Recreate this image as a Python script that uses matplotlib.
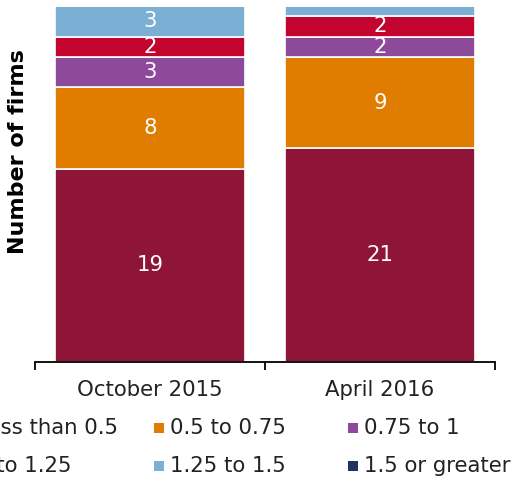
import matplotlib
matplotlib.use("Agg")
import matplotlib.pyplot as plt
from matplotlib.patches import Rectangle

categories = ["October 2015", "April 2016"]
series_names = ["Less than 0.5", "0.5 to 0.75", "0.75 to 1", "1 to 1.25", "1.25 to 1.5", "1.5 or greater"]
values = {
    "Less than 0.5": [19, 21],
    "0.5 to 0.75": [8, 9],
    "0.75 to 1": [3, 2],
    "1 to 1.25": [2, 2],
    "1.25 to 1.5": [3, 1],
    "1.5 or greater": [0, 0],
}
show_label = {
    "1.25 to 1.5": [True, False],
}
colors = ["#8E1538", "#E07C00", "#8E4A9A", "#C3042F", "#7BAFD4", "#1F3361"]

W, H = 517, 483
FS = 15.3
fig = plt.figure(figsize=(W/100, H/100), dpi=100)
ax = fig.add_axes([35/W, 1-362/H, 460/W, 356/H])

x = list(range(len(categories)))
bottoms = [0]*len(categories)
for name, col in zip(series_names, colors):
    vals = values[name]
    ax.bar(x, vals, width=0.826, bottom=bottoms, color=col, edgecolor="white", linewidth=1.2)
    for i, v in enumerate(vals):
        lab = show_label.get(name, [True]*len(categories))[i]
        if v > 0 and lab:
            ax.text(x[i], bottoms[i] + v/2, str(v), ha="center", va="center", color="white", fontsize=FS)
    bottoms = [b + v for b, v in zip(bottoms, vals)]

ax.set_xlim(-0.5, 1.5)
ax.set_ylim(0, 35)
for s in ["top", "right", "left"]:
    ax.spines[s].set_visible(False)
ax.spines["bottom"].set_linewidth(1.3)
ax.set_yticks([])
ax.set_xticks([-0.5, 0.5, 1.5])
ax.set_xticklabels([])
ax.tick_params(axis="x", which="major", length=6, width=1.3, direction="out")
ax.set_xticks(x, minor=True)
ax.set_xticklabels(categories, minor=True, fontsize=FS, color="#222222")
ax.tick_params(axis="x", which="minor", length=0, pad=13)

fig.text(18/W, 1-152/H, "Number of firms", rotation=90, ha="center", va="center",
         fontsize=16, fontweight="bold")

for i, (name, col) in enumerate(zip(series_names, colors)):
    r, c = divmod(i, 3)
    mx = -40 + c*194
    my = 428 if r == 0 else 466
    fig.patches.append(Rectangle((mx/W, 1-(my+5)/H), 10/W, 10/H, transform=fig.transFigure,
                                 facecolor=col, edgecolor="none"))
    fig.text((mx+16)/W, 1-my/H, name, ha="left", va="center", fontsize=FS, color="#222222")

fig.savefig("out.png", dpi=100)
